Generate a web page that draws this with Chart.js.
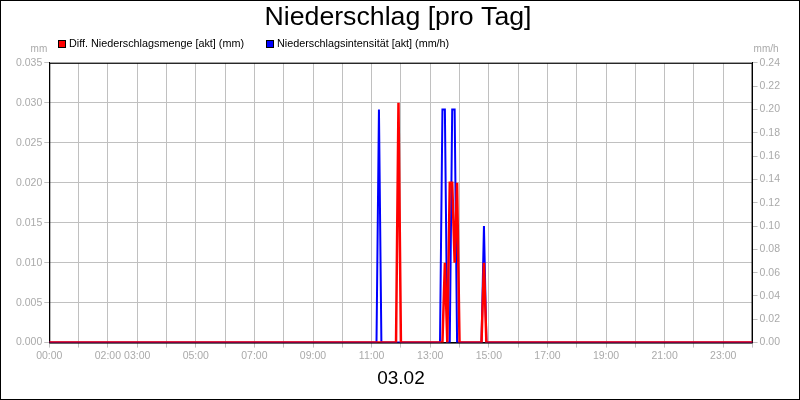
<!DOCTYPE html>
<html>
<head>
<meta charset="utf-8">
<script src="https://cdn.jsdelivr.net/npm/chart.js@4.4.1/dist/chart.umd.min.js"></script>
<style>
  html, body { margin: 0; padding: 0; background: #fff; }
  #frame { width: 800px; height: 400px; box-sizing: border-box; border: 1px solid #000; }
  canvas { display: block; }
</style>
</head>
<body>
<div id="frame"><canvas id="chart" width="798" height="398"></canvas></div>
<script>
const titleText = 'Niederschlag [pro Tag]'
const dayLabel = '03.02'
const seriesNames = ['Diff. Niederschlagsmenge [akt] (mm)', 'Niederschlagsintensität [akt] (mm/h)']
const seriesColors = ['#ff0000', '#0000ff']
const unitLeft = 'mm'
const unitRight = 'mm/h'

// only these hour labels are printed under the chart
const xTickLabels = ['00:00', '02:00', '03:00', '05:00', '07:00', '09:00', '11:00', '13:00', '15:00', '17:00', '19:00', '21:00', '23:00']

// rain amount (mm), 5 min steps; long zero stretches only keep their end points
const amountTimes = ['00:00', '11:50', '11:55', '12:00', '13:25', '13:30', '13:35', '13:40', '13:45', '13:50', '13:55', '14:00', '14:45', '14:50', '14:55', '24:00']
const amountValues = [0, 0, 0.03, 0, 0, 0.01, 0, 0.02, 0.02, 0.01, 0.02, 0, 0, 0.01, 0, 0]

// rain intensity (mm/h)
const intensityTimes = ['00:00', '11:10', '11:15', '11:20', '13:20', '13:25', '13:30', '13:35', '13:40', '13:45', '13:50', '13:55', '14:45', '14:50', '14:55', '24:00']
const intensityValues = [0, 0, 0.2, 0, 0, 0.2, 0.2, 0, 0, 0.2, 0.2, 0, 0, 0.1, 0, 0]

const gray = '#aaaaaa'
const gridGray = '#c0c0c0'

function toMinutes(t) {
  const [h, m] = t.split(':').map(Number)
  return h * 60 + m
}

function hhmm(minutes) {
  const h = Math.floor(minutes / 60)
  const m = minutes % 60
  return String(h).padStart(2, '0') + ':' + String(m).padStart(2, '0')
}

function points(times, values) {
  return times.map((t, i) => ({ x: toMinutes(t), y: values[i] }))
}

// black frame around the plot area (drawn under the lines)
const areaBorder = {
  id: 'areaBorder',
  beforeDatasetsDraw(chart) {
    const { ctx, chartArea: a } = chart
    ctx.save()
    ctx.strokeStyle = '#000'
    ctx.lineWidth = 1
    ctx.strokeRect(a.left + 0.5, a.top + 0.5, a.right - a.left - 1, a.bottom - a.top)
    ctx.restore()
  }
}

// legend in one row at the top left + the unit labels above the axes
const legendAndUnits = {
  id: 'legendAndUnits',
  afterDraw(chart) {
    const { ctx, chartArea: a } = chart
    ctx.save()
    ctx.font = '10.8px "Liberation Sans", Arial, sans-serif'
    ctx.textBaseline = 'middle'
    let x = 57
    const y = 43
    chart.data.datasets.forEach(ds => {
      ctx.fillStyle = ds.borderColor
      ctx.fillRect(x, y - 4, 8, 8)
      ctx.strokeStyle = '#000'
      ctx.lineWidth = 1
      ctx.strokeRect(x + 0.5, y - 3.5, 7, 7)
      ctx.fillStyle = '#000'
      ctx.textAlign = 'left'
      ctx.fillText(ds.label, x + 11, y)
      x += 11 + ctx.measureText(ds.label).width + 22
    })

    ctx.font = '10px "Liberation Sans", Arial, sans-serif'
    ctx.fillStyle = gray
    ctx.textAlign = 'right'
    ctx.fillText(unitLeft, a.left - 2, a.top - 14)
    ctx.textAlign = 'left'
    ctx.fillText(unitRight, a.right + 1, a.top - 14)
    ctx.restore()
  }
}

Chart.defaults.font.family = '"Liberation Sans", Arial, sans-serif'
Chart.defaults.font.size = 10.5

new Chart(document.getElementById('chart'), {
  type: 'line',
  data: {
    datasets: [
      {
        label: seriesNames[0],
        data: points(amountTimes, amountValues),
        borderColor: seriesColors[0],
        backgroundColor: seriesColors[0],
        borderWidth: 2.5,
        yAxisID: 'yMm',
        order: 1
      },
      {
        label: seriesNames[1],
        data: points(intensityTimes, intensityValues),
        borderColor: seriesColors[1],
        backgroundColor: seriesColors[1],
        borderWidth: 2,
        yAxisID: 'yRate',
        order: 2
      }
    ]
  },
  options: {
    responsive: false,
    animation: false,
    devicePixelRatio: 1,
    elements: { point: { radius: 0 }, line: { tension: 0 } },
    layout: { padding: { left: 13, right: 17, top: 0, bottom: 9 } },
    plugins: {
      legend: { display: false },
      tooltip: { enabled: false },
      title: {
        display: true,
        text: titleText,
        color: '#000',
        font: { size: 26.7, weight: 'normal' },
        padding: { top: 1, bottom: 28.8 }
      }
    },
    scales: {
      x: {
        type: 'linear',
        min: 0,
        max: 1440,
        grid: { color: gridGray, tickLength: 5 },
        border: { color: '#000' },
        ticks: {
          stepSize: 60,
          autoSkip: false,
          maxRotation: 0,
          padding: 2,
          color: gray,
          callback: v => {
            const s = hhmm(v)
            return xTickLabels.includes(s) ? s : ''
          }
        },
        title: {
          display: true,
          text: dayLabel,
          color: '#000',
          font: { size: 19 },
          padding: { top: 3, bottom: 0 }
        }
      },
      yMm: {
        position: 'left',
        min: 0,
        max: 0.035,
        grid: { color: gridGray, tickLength: 5 },
        border: { color: '#000' },
        ticks: { stepSize: 0.005, padding: 2, color: gray, callback: v => v.toFixed(3) }
      },
      yRate: {
        position: 'right',
        min: 0,
        max: 0.24,
        grid: { drawOnChartArea: false, color: gridGray, tickLength: 5 },
        border: { color: '#000' },
        ticks: { stepSize: 0.02, padding: 2, color: gray, callback: v => v.toFixed(2) }
      }
    }
  },
  plugins: [areaBorder, legendAndUnits]
})
</script>
</body>
</html>
